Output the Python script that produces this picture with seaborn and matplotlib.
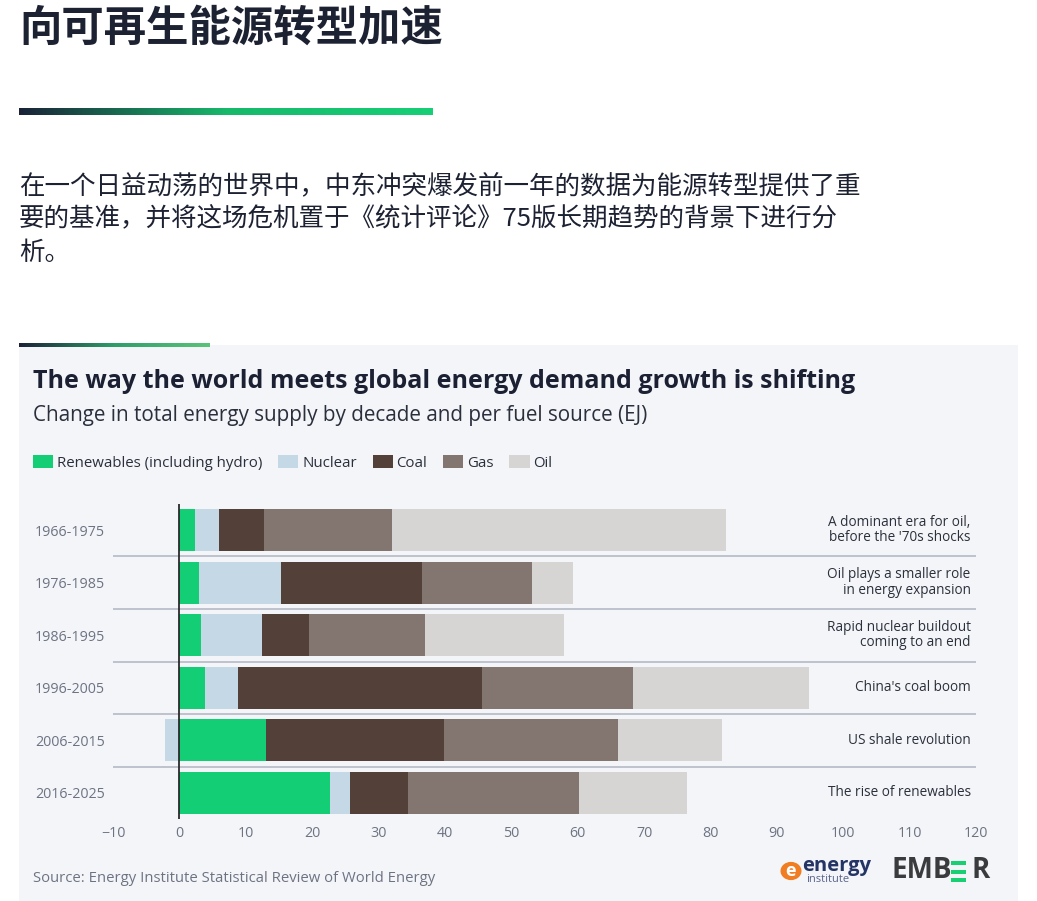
import numpy as np
import pandas as pd
import matplotlib
matplotlib.use("Agg")
import matplotlib.pyplot as plt
import seaborn as sns
from matplotlib.patches import Rectangle, Patch, Circle
from matplotlib.colors import LinearSegmentedColormap

# data (EJ)
decades = ["1966-1975", "1976-1985", "1986-1995", "1996-2005", "2006-2015", "2016-2025"]
fuels = ["Renewables (including hydro)", "Nuclear", "Coal", "Gas", "Oil"]
renewables = [2.3, 3.0, 3.3, 3.9, 13.0, 22.7]
nuclear = [3.7, 12.3, 9.1, 4.9, -2.1, 3.0]
coal = [6.7, 21.3, 7.1, 36.8, 26.9, 8.7]
gas = [19.3, 16.5, 17.5, 22.8, 26.1, 25.8]
oil = [50.3, 6.2, 20.9, 26.5, 15.8, 16.3]
notes = [
    "A dominant era for oil,\nbefore the '70s shocks",
    "Oil plays a smaller role\nin energy expansion",
    "Rapid nuclear buildout\ncoming to an end",
    "China's coal boom",
    "US shale revolution",
    "The rise of renewables",
]
colors = ["#13CE74", "#C5D8E6", "#524039", "#83756F", "#D6D5D3"]

W, H = 1037, 901
sns.set_theme(style="white")
plt.rcParams["font.family"] = ["Open Sans", "DejaVu Sans"]
cjk = ["Noto Sans CJK SC", "DejaVu Sans"]

fig = plt.figure(figsize=(W / 100, H / 100), dpi=100)
fig.patch.set_facecolor("white")


def fx(px):
    return px / W


def fy(py):
    return 1 - py / H


# page header
fig.text(fx(19), fy(29), "向可再生能源转型加速", family=cjk, fontsize=30.5,
         fontweight="bold", color="#1D2233", va="center", ha="left")

grad = LinearSegmentedColormap.from_list("g", ["#1B2238", "#17B86A", "#16CF76"])
gax = fig.add_axes([fx(19), fy(115), fx(433) - fx(19), fy(108) - fy(115)])
gax.imshow(np.linspace(0, 1, 256)[None, :], aspect="auto", cmap=grad)
gax.axis("off")

para = ["在一个日益动荡的世界中，中东冲突爆发前一年的数据为能源转型提供了重",
        "要的基准，并将这场危机置于《统计评论》75版长期趋势的背景下进行分",
        "析。"]
for i, line in enumerate(para):
    fig.text(fx(19), fy(186 + 33.5 * i), line, family=cjk, fontsize=18.4,
             color="#1D2233", va="center", ha="left")

# chart panel
fig.patches.append(Rectangle((fx(19), 0), fx(1018) - fx(19), fy(345),
                             transform=fig.transFigure, facecolor="#F3F5F9",
                             edgecolor="none", zorder=-5))
gax2 = fig.add_axes([fx(19), fy(347), fx(210) - fx(19), fy(343) - fy(347)])
gax2.imshow(np.linspace(0, 1, 256)[None, :], aspect="auto",
            cmap=LinearSegmentedColormap.from_list("g2", ["#1B2238", "#2E9E6A", "#5BC47A"]))
gax2.axis("off")

fig.text(fx(33), fy(381), "The way the world meets global energy demand growth is shifting",
         fontsize=18, fontweight="bold", color="#1C2033", va="center")
fig.text(fx(33), fy(416), "Change in total energy supply by decade and per fuel source (EJ)",
         fontsize=14.9, color="#2B2F3C", va="center")

# stacked bars: overlay cumulative totals, positives and negatives separately
vals = np.array([renewables, nuclear, coal, gas, oil])
pos_end = np.cumsum(np.clip(vals, 0, None), axis=0)
neg_end = np.cumsum(np.clip(vals, None, 0), axis=0)

ax = fig.add_axes([fx(113), fy(819.3), fx(976) - fx(113), fy(503.7) - fy(819.3)])
ax.set_facecolor("none")
for k in range(len(fuels) - 1, -1, -1):
    for ends in (pos_end, neg_end):
        df = pd.DataFrame({"decade": decades, "value": ends[k]})
        sns.barplot(data=df, x="value", y="decade", orient="h", color=colors[k],
                    saturation=1, width=0.8, errorbar=None, linewidth=0, ax=ax)

ax.set_xlim(-10, 120)
ax.set_ylim(5.5, -0.5)
ax.set_xticks(np.arange(-10, 121, 10))
ax.set_xlabel("")
ax.set_ylabel("")
for s in ax.spines.values():
    s.set_visible(False)
ax.tick_params(axis="both", length=0, labelsize=10.3, labelcolor="#6E7382")
ax.tick_params(axis="y", pad=6)
ax.tick_params(axis="x", pad=5)
for y in np.arange(0.5, len(decades) - 0.5, 1):
    ax.axhline(y, color="#AEB4C0", lw=1.1, zorder=0.5)
ax.axvline(0, color="#2A2A2A", lw=1.3, zorder=5)
for i, t in enumerate(notes):
    ax.text(119.2, i, t, ha="right", va="center", fontsize=9.8,
            color="#2C303B", linespacing=1.05)

handles = [Patch(facecolor=c, edgecolor="none") for c in colors]
fig.legend(handles, fuels, loc="center left", bbox_to_anchor=(fx(33), fy(463)),
           ncol=5, frameon=False, fontsize=10.8, handlelength=1.35, handleheight=0.95,
           handletextpad=0.25, columnspacing=1.05, labelcolor="#2B2F3C",
           borderaxespad=0, borderpad=0)

fig.text(fx(33), fy(878), "Source: Energy Institute Statistical Review of World Energy",
         fontsize=10.7, color="#6E7382", va="center")

# logos
fig.patches.append(Circle((fx(791), fy(871)), 10.5 / W, transform=fig.transFigure,
                          facecolor="#F07D22", edgecolor="none"))
fig.text(fx(791), fy(871), "e", fontsize=13, color="white", fontweight="bold",
         ha="center", va="center")
fig.text(fx(802), fy(866), "energy", fontsize=14.5, fontweight="bold",
         color="#243465", va="center")
fig.text(fx(806), fy(880), "institute", fontsize=8, color="#5A6489", va="center")
fig.text(fx(892), fy(871), "EMB", fontsize=20, fontweight="bold",
         color="#3A3B3D", va="center")
for yy in (861, 869.5, 878):
    fig.patches.append(Rectangle((fx(951), fy(yy + 4)), 15 / W, 4 / H,
                                 transform=fig.transFigure, facecolor="#18CF74",
                                 edgecolor="none"))
fig.text(fx(990), fy(871), "R", fontsize=20, fontweight="bold",
         color="#3A3B3D", va="center", ha="right")

fig.savefig("out.png", dpi=100, facecolor="white")
